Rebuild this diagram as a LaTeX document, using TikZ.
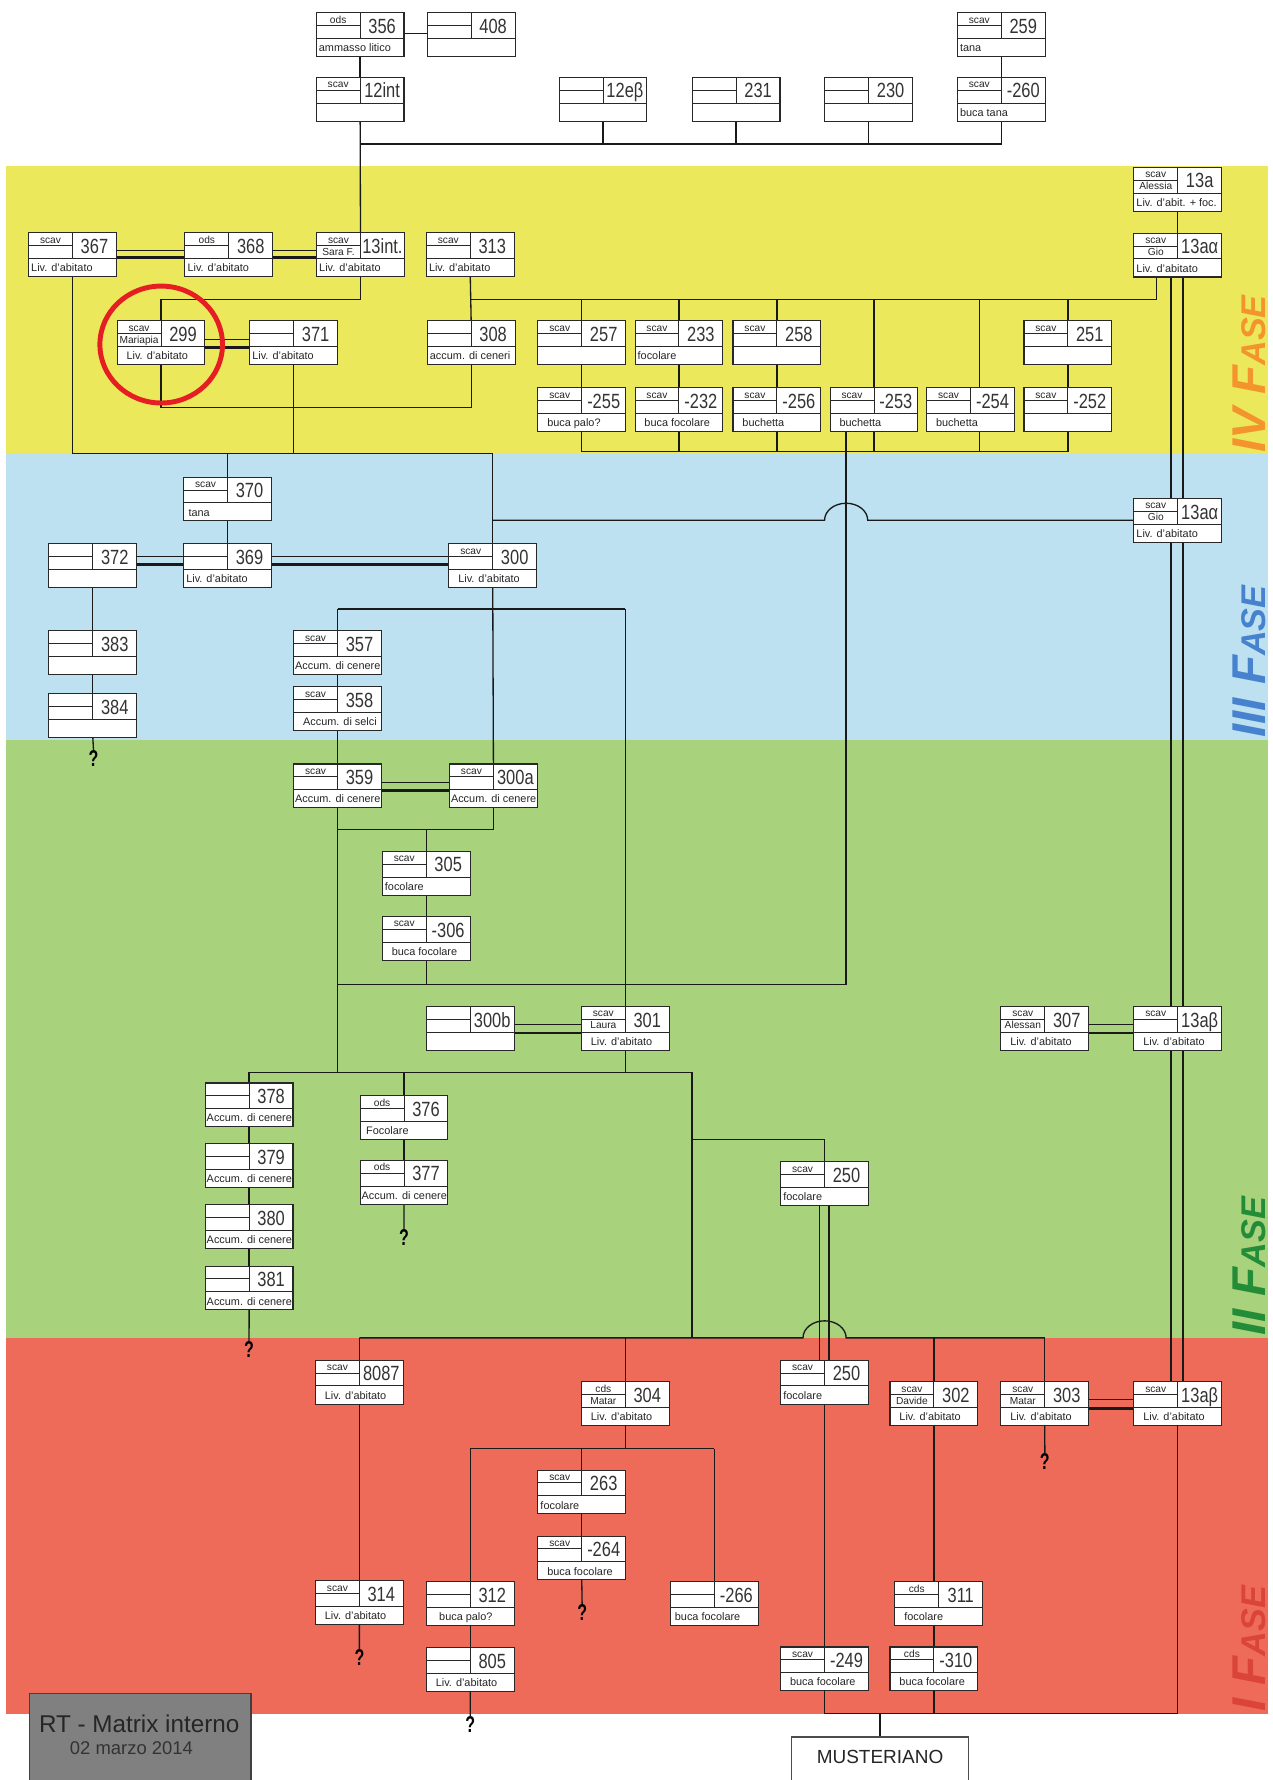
\documentclass[tikz,border=0pt]{standalone}
\usepackage{fontspec}
\setmainfont{Liberation Sans}
\newfontfamily\numfont[FakeStretch=0.8]{Liberation Sans}
\newfontfamily\qmfont[FakeStretch=0.7]{Liberation Sans}
\usetikzlibrary{calc}
\pgfdeclarelayer{bands}
\pgfdeclarelayer{lines}
\pgfsetlayers{bands,lines,main}

\definecolor{bandY}{RGB}{236,232,92}
\definecolor{bandB}{RGB}{189,225,241}
\definecolor{bandG}{RGB}{168,210,124}
\definecolor{bandR}{RGB}{238,107,90}
\definecolor{faseIV}{RGB}{244,148,45}
\definecolor{faseIII}{RGB}{70,130,205}
\definecolor{faseII}{RGB}{35,140,55}
\definecolor{faseI}{RGB}{218,68,58}
\definecolor{boxline}{RGB}{40,40,40}
\definecolor{circred}{RGB}{228,30,35}

\tikzset{
 uxbox/.style={draw=boxline,fill=white,line width=0.6pt,minimum width=1.7547cm,minimum height=0.8762cm,inner sep=0pt,outer sep=0pt},
 uxin/.style={draw=boxline,line width=0.5pt},
 uxtl/.style={inner sep=0pt,anchor=base,font=\fontsize{5.8}{5.8}\selectfont,text=black!85},
 uxnum/.style={inner sep=0pt,anchor=base,font=\numfont\fontsize{11.7}{11.7}\selectfont,text=black!80},
 uxdesc/.style={inner sep=0pt,anchor=base west,font=\fontsize{6.2}{6.2}\selectfont,text=black!85},
 cline/.style={draw=black!90,line width=0.75pt},
 qmark/.style={inner sep=0pt,font=\qmfont\bfseries\fontsize{13}{13}\selectfont},
 fase/.style={rotate=90,anchor=base west,inner sep=0pt,font=\bfseries\itshape},
}

% name, x, y (top-left), top-left text, name text, number, description, desc inset
\newcommand\ubox[8]{%
 \node[uxbox] (#1) at ({#2+38.65},{#3+19.3}) {};
 \draw[uxin] ({#2},{#3+22.6}) -- ({#2+77.3},{#3+22.6})
   ({#2+38.65},{#3}) -- ({#2+38.65},{#3+22.6})
   ({#2},{#3+11.3}) -- ({#2+38.65},{#3+11.3});
 \node[uxtl] (#1-a) at ({#2+19.3},{#3+9.3}) {#4};
 \node[uxtl] (#1-b) at ({#2+19.3},{#3+19.8}) {#5};
 \node[uxnum] (#1-n) at ({#2+58},{#3+18.2}) {#6};
 \node[uxdesc] (#1-d) at ({#2+#8},{#3+34.3}) {#7};
}
\newcommand\eqlink[4]{%
 \draw[cline] ($(#1.north east)+(0,#3)$) -- ($(#2.north west)+(0,#3)$);
 \draw[cline,line width=1.6pt] ($(#1.north east)+(0,#4)$) -- ($(#2.north west)+(0,#4)$);
}

\begin{document}
\begin{tikzpicture}[x=0.0227cm,y=-0.0227cm]
\useasboundingbox (0,0) rectangle (1121,1568);

\begin{pgfonlayer}{bands}
\fill[white] (0,0) rectangle (1121,1568);
\fill[bandY] (5,146) rectangle (1117,400);
\fill[bandB] (5,400) rectangle (1117,652);
\fill[bandG] (5,652) rectangle (1117,1178.5);
\fill[bandR] (5,1178.5) rectangle (1117,1509.5);
\end{pgfonlayer}

% ---------- boxes: top ----------
\ubox{b356}{278.6}{11.2}{ods}{}{356}{ammasso litico}{2}
\ubox{b408}{376.4}{11.2}{}{}{408}{}{2}
\ubox{b12int}{278.6}{68.1}{scav}{}{12int}{}{2}
\ubox{b12eb}{492.5}{68.1}{}{}{12eβ}{}{2}
\ubox{b231}{609.8}{68.1}{}{}{231}{}{2}
\ubox{b230}{726.5}{68.1}{}{}{230}{}{2}
\ubox{b259}{843.4}{11.2}{scav}{}{259}{tana}{2}
\ubox{b260}{843.4}{68.1}{scav}{}{-260}{buca tana}{2}

% ---------- yellow ----------
\ubox{b13a}{998.8}{147.4}{scav}{Alessia}{13a}{Liv. d'abit. + foc.}{2}
\ubox{b367}{25.2}{204.9}{scav}{}{367}{Liv. d'abitato}{2}
\ubox{b368}{162.9}{204.9}{ods}{}{368}{Liv. d'abitato}{2}
\ubox{b13int}{278.9}{204.9}{scav}{Sara F.}{13int.}{Liv. d'abitato}{2}
\ubox{b313}{375.6}{204.9}{scav}{}{313}{Liv. d'abitato}{2}
\ubox{b13aaIV}{998.8}{205.4}{scav}{Gio}{13aα}{Liv. d'abitato}{2}
\ubox{b299}{103.2}{282.6}{scav}{Mariapia}{299}{Liv. d'abitato}{8}
\ubox{b371}{220}{282.6}{}{}{371}{Liv. d'abitato}{2}
\ubox{b308}{376.4}{282.6}{}{}{308}{accum. di ceneri}{2}
\ubox{b257}{473.8}{282.6}{scav}{}{257}{}{2}
\ubox{b233}{559.4}{282.6}{scav}{}{233}{focolare}{2}
\ubox{b258}{645.7}{282.6}{scav}{}{258}{}{2}
\ubox{b251}{902}{282.6}{scav}{}{251}{}{2}
\ubox{b255}{473.8}{341.4}{scav}{}{-255}{buca palo?}{8}
\ubox{b232}{559.4}{341.4}{scav}{}{-232}{buca focolare}{8}
\ubox{b256}{645.7}{341.4}{scav}{}{-256}{buchetta}{8}
\ubox{b253}{731.2}{341.4}{scav}{}{-253}{buchetta}{8}
\ubox{b254}{816.3}{341.4}{scav}{}{-254}{buchetta}{8}
\ubox{b252}{902}{341.4}{scav}{}{-252}{}{2}

% ---------- blue ----------
\ubox{b370}{161.8}{420.3}{scav}{}{370}{tana}{4}
\ubox{b372}{43.1}{479}{}{}{372}{}{2}
\ubox{b369}{161.8}{479}{}{}{369}{Liv. d'abitato}{2}
\ubox{b300}{395.4}{479}{scav}{}{300}{Liv. d'abitato}{8}
\ubox{b13aaIII}{998.8}{439}{scav}{Gio}{13aα}{Liv. d'abitato}{2}
\ubox{b383}{43.1}{555.4}{}{}{383}{}{2}
\ubox{b384}{43.1}{610.9}{}{}{384}{}{2}
\ubox{b357}{258.7}{555.7}{scav}{}{357}{Accum. di cenere}{1}
\ubox{b358}{258.7}{604.7}{scav}{}{358}{Accum. di selci}{8}

% ---------- green ----------
\ubox{b359}{258.7}{673}{scav}{}{359}{Accum. di cenere}{1}
\ubox{b300a}{396}{673}{scav}{}{300a}{Accum. di cenere}{1}
\ubox{b305}{336.8}{749.9}{scav}{}{305}{focolare}{2}
\ubox{b306}{336.8}{807.2}{scav}{}{-306}{buca focolare}{8}
\ubox{b300b}{375.6}{886.5}{}{}{300b}{}{2}
\ubox{b301}{512.2}{886.5}{scav}{Laura}{301}{Liv. d'abitato}{8}
\ubox{b307}{881.7}{886.5}{scav}{Alessan}{307}{Liv. d'abitato}{8}
\ubox{b13abII}{998.8}{886.5}{scav}{}{13aβ}{Liv. d'abitato}{8}
\ubox{b378}{180.8}{954}{}{}{378}{Accum. di cenere}{1}
\ubox{b379}{180.8}{1007.7}{}{}{379}{Accum. di cenere}{1}
\ubox{b380}{180.8}{1061.4}{}{}{380}{Accum. di cenere}{1}
\ubox{b381}{180.8}{1115.3}{}{}{381}{Accum. di cenere}{1}
\ubox{b376}{317.3}{965.2}{ods}{}{376}{Focolare}{5}
\ubox{b377}{317.3}{1022.1}{ods}{}{377}{Accum. di cenere}{1}
\ubox{b250II}{687.7}{1023.5}{scav}{}{250}{focolare}{2}

% ---------- red ----------
\ubox{b8087}{277.9}{1198.2}{scav}{}{8087}{Liv. d'abitato}{8}
\ubox{b250I}{687.7}{1198.2}{scav}{}{250}{focolare}{2}
\ubox{b304}{512.2}{1217.2}{cds}{Matar}{304}{Liv. d'abitato}{8}
\ubox{b302}{784}{1217.2}{scav}{Davide}{302}{Liv. d'abitato}{8}
\ubox{b303}{881.7}{1217.2}{scav}{Matar}{303}{Liv. d'abitato}{8}
\ubox{b13abI}{998.8}{1217.2}{scav}{}{13aβ}{Liv. d'abitato}{8}
\ubox{b263}{473.8}{1295}{scav}{}{263}{focolare}{2}
\ubox{b264}{473.8}{1353.1}{scav}{}{-264}{buca focolare}{8}
\ubox{b314}{277.9}{1392.2}{scav}{}{314}{Liv. d'abitato}{8}
\ubox{b312}{375.6}{1393.3}{}{}{312}{buca palo?}{11}
\ubox{b266}{590.7}{1393.3}{}{}{-266}{buca focolare}{3.5}
\ubox{b311}{788.3}{1393.3}{cds}{}{311}{focolare}{8}
\ubox{b805}{375.6}{1451.4}{}{}{805}{Liv. d'abitato}{8}
\ubox{b249}{687.7}{1450.8}{scav}{}{-249}{buca focolare}{8}
\ubox{b310}{784}{1450.8}{cds}{}{-310}{buca focolare}{8}

% question marks
\node[qmark] (q1) at (82.4,668.5) {?};
\node[qmark] (q2) at (219.4,1189) {?};
\node[qmark] (q3) at (355.9,1090.5) {?};
\node[qmark] (q4) at (316.6,1460.5) {?};
\node[qmark] (q5) at (512.8,1420.7) {?};
\node[qmark] (q6) at (414.3,1519) {?};
\node[qmark] (q7) at (920.4,1287.2) {?};

% title and Musteriano
\node[draw=black!75,fill=black!50,line width=0.8pt,anchor=north west,minimum width=4.43cm,minimum height=2.2cm,inner sep=0pt] (tbox) at (25.2,1491) {};
\node[anchor=base,inner sep=0pt,font=\fontsize{13.8}{13.8}\selectfont,text=black!85] (ttl) at (122.6,1526.3) {RT - Matrix interno};
\node[anchor=base,inner sep=0pt,font=\fontsize{10.5}{10.5}\selectfont,text=black!80] (tdate) at (115.8,1545.4) {02 marzo 2014};
\node[draw=black!70,fill=white,line width=0.8pt,anchor=north,minimum width=3.53cm,minimum height=1.5cm,inner sep=0pt] (must) at (775.2,1529.5) {};
\node[anchor=base,inner sep=0pt,font=\fontsize{10.8}{10.8}\selectfont,text=black!85] (must-t) at (775.2,1553.6) {MUSTERIANO};

% phase labels
\node[fase,text=faseIV] (fIV) at (1115,399) {\fontsize{27}{27}\selectfont IV F\fontsize{19.5}{19.5}\selectfont ASE};
\node[fase,text=faseIII] (fIII) at (1115,650) {\fontsize{27}{27}\selectfont III F\fontsize{19.5}{19.5}\selectfont ASE};
\node[fase,text=faseII] (fII) at (1115,1177) {\fontsize{27}{27}\selectfont II F\fontsize{19.5}{19.5}\selectfont ASE};
\node[fase,text=faseI] (fI) at (1115,1508) {\fontsize{27}{27}\selectfont I F\fontsize{19.5}{19.5}\selectfont ASE};

% ---------- connectors ----------
\begin{pgfonlayer}{lines}
\coordinate (jTop) at (0,126.8);
\coordinate (jA) at (0,263.6);
\coordinate (jC) at (0,358.7);
\coordinate (jB) at (0,398);
\coordinate (jD) at (0,399.5);
\coordinate (jE) at (0,536.6);
\coordinate (jG) at (0,730.8);
\coordinate (jF) at (0,867.4);
\coordinate (jI) at (0,944.6);
\coordinate (jJ) at (0,1003.9);
\coordinate (jR) at (0,1178.5);
\coordinate (jK) at (0,1276);
\coordinate (jL) at (0,1509.6);
\coordinate (kX) at (609.7,0);
\coordinate (g13) at ($(b13aaIV.south)+(-19,0)$);
\coordinate (k253) at ($(b253.south)+(-24.5,0)$);
\coordinate (k254) at ($(b254.north)+(7.8,0)$);

% top
\draw[cline] ($(b356.north east)+(0,18.2)$) -- ($(b408.north west)+(0,18.2)$);
\draw[cline] (b356.south) -- (b12int.north);
\draw[cline] (b259.south) -- (b260.north);
\draw[cline] (b12int.south) -- (b13int.north);
\draw[cline] (b12int.south |- jTop) -- (b260.south |- jTop) -- (b260.south);
\foreach \n in {b12eb,b231,b230} \draw[cline] (\n.south) -- (\n.south |- jTop);

% yellow
\eqlink{b367}{b368}{15.5}{21.8}
\eqlink{b368}{b13int}{15.5}{21.8}
\draw[cline] (b13a.south) -- (b13aaIV.north);
\draw[cline] (b13int.south) -- (b13int.south |- jA) -- (b299.north |- jA) -- (b299.north);
\draw[cline] (b313.south) -- (b308.north);
\draw[cline] (b313.south |- jA) -- (g13 |- jA) -- (g13);
\foreach \n in {b257,b233,b258,b253,b251} \draw[cline] (\n.north |- jA) -- (\n.north);
\draw[cline] (k254 |- jA) -- (k254);
\foreach \a/\b in {b257/b255,b233/b232,b258/b256,b251/b252} \draw[cline] (\a.south) -- (\b.north);
\draw[cline] (b255.south |- jB) -- (b252.south |- jB);
\foreach \n in {b255,b232,b256,b253,b252} \draw[cline] (\n.south) -- (\n.south |- jB);
\draw[cline] ($(b254.south)+(7.8,0)$) -- ($(b254.south |- jB)+(7.8,0)$);
\eqlink{b299}{b371}{16.7}{23.5}
\draw[cline] (b299.south) -- (b299.south |- jC) -- (b308.south |- jC) -- (b308.south);
\draw[cline] (b367.south) -- (b367.south |- jD) -- (b300.north |- jD) -- (b300.north);
\draw[cline] (b371.south) -- (b371.south |- jD);
\draw[cline] (b370.north |- jD) -- (b370.north);
\draw[cline] (k253) -- (k253 |- jF) -- (b359.south |- jF);

% blue
\draw[cline] (b370.south) -- (b369.north);
\eqlink{b372}{b369}{11.2}{18.2}
\eqlink{b369}{b300}{11.2}{18.2}
\draw[cline] (b300.north |- b13aaIII.west) -- ($(k253 |- b13aaIII.west)+(-19,0)$)
  arc[start angle=180,end angle=360,x radius=19,y radius=15] -- (b13aaIII.west);
\draw[cline] (b372.south) -- (b383.north);
\draw[cline] (b383.south) -- (b384.north);
\draw[cline] (b384.south) -- (q1.north);
\draw[cline] (b300.south) -- (b300a.north);
\draw[cline] (b357.north |- jE) -- (b301.north |- jE);
\draw[cline] (b357.north |- jE) -- (b357.north);
\draw[cline] (b357.south) -- (b358.north);
\draw[cline] (b358.south) -- (b359.north);
\draw[cline] (b301.north |- jE) -- (b301.north);

% 13a column double lines
\foreach \o in {-5.8,4.8} {
  \draw[cline,line width=0.9pt] ($(b13aaIV.south)+(\o,0)$) -- ($(b13abII.north)+(\o,0)$);
  \draw[cline,line width=0.9pt] ($(b13abII.south)+(\o,0)$) -- ($(b13abI.north)+(\o,0)$);
}

% green
\eqlink{b359}{b300a}{16.1}{23.2}
\draw[cline] (b300a.south) -- (b300a.south |- jG) -- (b359.south |- jG);
\draw[cline] (b305.north |- jG) -- (b305.north);
\draw[cline] (b305.south) -- (b306.north);
\draw[cline] (b306.south) -- (b306.south |- jF);
\draw[cline] (b359.south) -- (b359.south |- jI);
\eqlink{b300b}{b301}{16.1}{23.5}
\eqlink{b307}{b13abII}{16.1}{23.5}
\draw[cline] (b378.north |- jI) -- (kX |- jI);
\draw[cline] (b301.south) -- (b301.south |- jI);
\draw[cline] (b378.north |- jI) -- (b378.north);
\draw[cline] (b376.north |- jI) -- (b376.north);
\draw[cline] (b378.south) -- (b379.north);
\draw[cline] (b379.south) -- (b380.north);
\draw[cline] (b380.south) -- (b381.north);
\draw[cline] (b381.south) -- (q2.north);
\draw[cline] (b376.south) -- (b377.north);
\draw[cline] (b377.south) -- (q3.north);
\draw[cline] (kX |- jI) -- (kX |- jR);
\draw[cline] (kX |- jJ) -- (b250II.north |- jJ) -- (b250II.north);
\foreach \o in {-4.3,3.7}
  \draw[cline,line width=0.9pt] ($(b250II.south)+(\o,0)$) -- ($(b250I.north)+(\o,0)$);

% red
\draw[cline] (b8087.north |- jR) -- ($(b250II.south |- jR)+(-19,0)$)
  arc[start angle=180,end angle=360,x radius=19,y radius=15] -- (b303.north |- jR);
\foreach \n in {b8087,b304,b302,b303} \draw[cline] (\n.north |- jR) -- (\n.north);
\draw[cline] (b8087.south) -- (b314.north);
\draw[cline] (b314.south) -- (q4.north);
\draw[cline] (b304.south) -- (b304.south |- jK);
\draw[cline] (b312.north |- jK) -- (b266.north |- jK);
\foreach \n in {b312,b263,b266} \draw[cline] (\n.north |- jK) -- (\n.north);
\draw[cline] (b263.south) -- (b264.north);
\draw[cline] (b264.south) -- (q5.north);
\draw[cline] (b312.south) -- (b805.north);
\draw[cline] (b805.south) -- (q6.north);
\draw[cline] (b303.south) -- (q7.north);
\eqlink{b303}{b13abI}{15.6}{23.5}
\draw[cline] (b250I.south) -- (b249.north);
\draw[cline] (b249.south) -- (b249.south |- jL);
\draw[cline] (b302.south) -- (b302.south |- b311.north);
\draw[cline] (b302.south |- b311.south) -- (b302.south |- b310.north);
\draw[cline] (b310.south) -- (b310.south |- jL);
\draw[cline] (b13abI.south) -- (b13abI.south |- jL);
\draw[cline] (b249.south |- jL) -- (b13abI.south |- jL);
\draw[cline] (must.north |- jL) -- (must.north);
\end{pgfonlayer}

% red circle
\draw[circred,line width=2.8pt] (142,303.5) ellipse [x radius=54,y radius=51.5];
\end{tikzpicture}
\end{document}
